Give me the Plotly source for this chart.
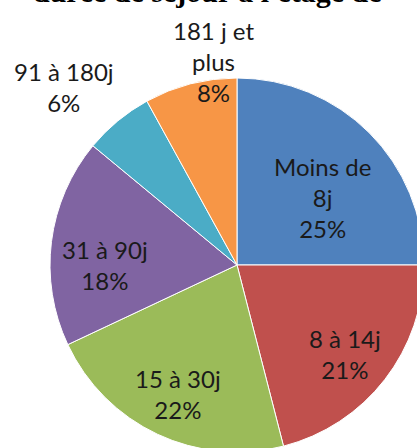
import plotly.graph_objects as go

# data
labels = ["Moins de<br>8j", "8 à 14j", "15 à 30j", "31 à 90j", "91 à 180j", "181 j et<br>plus"]
values = [25, 21, 22, 18, 6, 8]
colors = ["#4F81BD", "#C0504D", "#9BBB59", "#8064A2", "#4BACC6", "#F79646"]

# label centres in pixels (x, y from top of the visible picture)
label_pos = [(322, 197), (345, 354), (178, 394), (105, 265), (64, 87), (213, 61)]

T = 40  # hidden band above the visible picture, holds the cut-off title
W, H = 424, 452 + T
cx, cy, r = 237, 265 + T, 187

fig = go.Figure(go.Pie(
    labels=labels, values=values, sort=False, direction="clockwise", rotation=0,
    marker=dict(colors=colors, line=dict(color="white", width=1)),
    textinfo="none", hoverinfo="label+percent", showlegend=False,
    domain=dict(x=[(cx - r) / W, (cx + r) / W], y=[(H - cy - r) / H, (H - cy + r) / H]),
))

total = sum(values)
for lab, v, (px_, py_) in zip(labels, values, label_pos):
    fig.add_annotation(
        x=px_ / W, y=1 - (py_ + T) / H, xref="paper", yref="paper",
        text=f"{lab}<br>{round(100 * v / total)}%", showarrow=False,
        font=dict(family="Lato", size=24, color="#1a1a1a"),
        xanchor="center", yanchor="middle", align="center",
    )

# title, mostly cut off at the top of the picture
fig.add_annotation(
    x=0.49, y=1 - (T + 10) / H, xref="paper", yref="paper", yanchor="bottom",
    text="<b>durée de séjour à l'étage de</b>", showarrow=False,
    font=dict(family="Liberation Serif", size=30, color="black"),
)

fig.update_layout(
    width=W, height=H, margin=dict(l=0, r=0, t=0, b=0),
    paper_bgcolor="white", plot_bgcolor="white",
)

fig.write_html(
    "out.html", config={"displayModeBar": False},
    post_script=f"document.body.style.margin='-{T}px 0 0 0';document.body.style.overflow='hidden';",
)
